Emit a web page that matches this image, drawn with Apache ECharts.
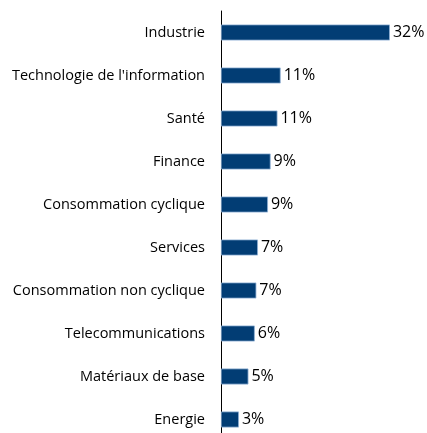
<!DOCTYPE html>
<html>
<head>
<meta charset="utf-8">
<script src="https://cdn.jsdelivr.net/npm/echarts@6/dist/echarts.min.js"></script>
<style>
  html, body { margin: 0; padding: 0; background: #fff; }
  #sectors { width: 427px; height: 433px; }
</style>
</head>
<body>
<div id="sectors"></div>
<script>
// répartition sectorielle (%)
const sectors = [
  'Industrie',
  "Technologie de l'information",
  'Santé',
  'Finance',
  'Consommation cyclique',
  'Services',
  'Consommation non cyclique',
  'Telecommunications',
  'Matériaux de base',
  'Energie'
]
const weights = [32.0, 11.3, 10.7, 9.4, 8.9, 7.0, 6.7, 6.4, 5.2, 3.4]

const font = '"Open Sans", sans-serif'

const chart = echarts.init(document.getElementById('sectors'))
chart.setOption({
  animation: false,
  grid: {
    left: 221,
    top: 11,
    width: 190,
    height: 430,
    outerBoundsMode: 'none'
  },
  xAxis: {
    type: 'value',
    min: 0,
    max: 36,
    show: false
  },
  yAxis: {
    type: 'category',
    inverse: true,
    data: sectors,
    axisLine: { lineStyle: { color: '#000', width: 1 } },
    axisTick: { show: false },
    axisLabel: {
      margin: 16,
      color: '#000',
      fontFamily: font,
      fontSize: 14.5
    }
  },
  series: [{
    type: 'bar',
    data: weights,
    barWidth: 16,
    itemStyle: {
      color: '#023d74',
      borderColor: '#8fb0d4',
      borderWidth: 0.8
    },
    label: {
      show: true,
      position: 'right',
      distance: 3,
      color: '#000',
      fontFamily: font,
      fontSize: 16,
      formatter: p => Math.round(p.value) + '%'
    }
  }]
})
</script>
</body>
</html>
